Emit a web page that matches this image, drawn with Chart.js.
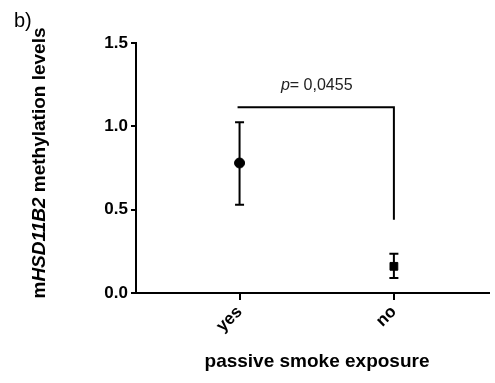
<!DOCTYPE html>
<html>
<head>
<meta charset="utf-8">
<script src="https://cdn.jsdelivr.net/npm/chart.js@4.4.1/dist/chart.umd.min.js"></script>
<style>
  body { margin: 0; background: #fff; }
  canvas { display: block; }
</style>
</head>
<body>
<canvas id="methChart" width="495" height="383"></canvas>
<script>
// Data
const categories = ['yes', 'no'];
const means = [0.78, 0.16];
const errLow = [0.53, 0.09];
const errHigh = [1.025, 0.235];
const markerStyles = ['circle', 'rect'];
const yTicks = [0, 0.5, 1.0, 1.5];
const bracketY = 1.115;     // height of the significance bar
const bracketDrop = 0.44;   // where the right leg ends
const pLabel = 'p';
const pValue = '= 0,0455';

const FONT = '"Liberation Sans", Arial, sans-serif';

// error bars, bracket, titles and panel letter
const extras = {
    id: 'extras',
    afterDatasetsDraw(chart) {
        const ctx = chart.ctx;
        const x = chart.scales.x, y = chart.scales.y;
        const area = chart.chartArea;
        ctx.save();
        ctx.strokeStyle = '#000';
        ctx.lineWidth = 2;
        // error bars
        categories.forEach((c, i) => {
            const px = x.getPixelForValue(i);
            const top = y.getPixelForValue(errHigh[i]);
            const bot = y.getPixelForValue(errLow[i]);
            ctx.beginPath();
            ctx.moveTo(px, top); ctx.lineTo(px, bot);
            ctx.moveTo(px - 4.5, top); ctx.lineTo(px + 4.5, top);
            ctx.moveTo(px - 4.5, bot); ctx.lineTo(px + 4.5, bot);
            ctx.stroke();
        });
        // significance bracket
        const x0 = x.getPixelForValue(0), x1 = x.getPixelForValue(1);
        const by = y.getPixelForValue(bracketY);
        ctx.beginPath();
        ctx.moveTo(x0 - 2, by);
        ctx.lineTo(x1, by);
        ctx.lineTo(x1, y.getPixelForValue(bracketDrop));
        ctx.stroke();

        // p value text
        ctx.fillStyle = '#222';
        ctx.textBaseline = 'middle';
        ctx.font = 'italic 16px ' + FONT;
        const wP = ctx.measureText(pLabel).width;
        ctx.font = '16px ' + FONT;
        const wV = ctx.measureText(pValue).width;
        const cx = (x0 + x1) / 2;
        const ty = by - 22;
        let sx = cx - (wP + wV) / 2;
        ctx.textAlign = 'left';
        ctx.font = 'italic 16px ' + FONT;
        ctx.fillText(pLabel, sx, ty);
        ctx.font = '16px ' + FONT;
        ctx.fillText(pValue, sx + wP, ty);

        // x title
        ctx.fillStyle = '#000';
        ctx.font = 'bold 19px ' + FONT;
        ctx.textAlign = 'center';
        ctx.fillText('passive smoke exposure', 317, 362);

        // y title, gene name in italics
        const parts = [['m', 'bold '], ['HSD11B2', 'bold italic '], [' methylation levels', 'bold ']];
        let total = 0;
        parts.forEach(p => { ctx.font = p[1] + '19px ' + FONT; total += ctx.measureText(p[0]).width; });
        ctx.translate(40, (area.top + area.bottom) / 2 - 5);
        ctx.rotate(-Math.PI / 2);
        ctx.textAlign = 'left';
        let off = -total / 2;
        parts.forEach(p => {
            ctx.font = p[1] + '19px ' + FONT;
            ctx.fillText(p[0], off, 0);
            off += ctx.measureText(p[0]).width;
        });
        ctx.restore();

        // panel letter
        ctx.save();
        ctx.fillStyle = '#000';
        ctx.font = '20px ' + FONT;
        ctx.textBaseline = 'middle';
        ctx.fillText('b)', 14, 21);
        ctx.restore();
    }
};

const ctx = document.getElementById('methChart').getContext('2d');
const methChart = new Chart(ctx, {
    type: 'line',
    data: {
        datasets: [{
            data: means.map((v, i) => ({ x: i, y: v })),
            showLine: false,
            pointStyle: markerStyles,
            pointRadius: [5, 5.5],
            pointBackgroundColor: '#000',
            pointBorderColor: '#000',
            pointBorderWidth: 1,
            clip: false
        }]
    },
    options: {
        responsive: false,
        animation: false,
        layout: { padding: { top: 43, right: 0, bottom: 0, left: 0 } },
        plugins: { legend: { display: false }, tooltip: { enabled: false } },
        scales: {
            x: {
                type: 'linear',
                min: -0.671,
                max: 1.613,
                afterBuildTicks: s => { s.ticks = categories.map((c, i) => ({ value: i })); },
                afterFit: s => { s.height = 90; },
                border: { color: '#000', width: 2 },
                grid: { drawOnChartArea: false, drawTicks: true, tickLength: 7, color: '#000', lineWidth: 2 },
                ticks: {
                    callback: v => categories[v],
                    minRotation: 45,
                    maxRotation: 45,
                    padding: 2,
                    color: '#000',
                    font: { family: FONT, size: 17, weight: 'bold' }
                }
            },
            y: {
                min: 0,
                max: 1.5,
                afterBuildTicks: s => { s.ticks = yTicks.map(v => ({ value: v })); },
                afterFit: s => { s.width = 136; },
                border: { color: '#000', width: 2 },
                grid: { drawOnChartArea: false, drawTicks: true, tickLength: 5, color: '#000', lineWidth: 2 },
                ticks: {
                    callback: v => v.toFixed(1),
                    padding: 3,
                    color: '#000',
                    font: { family: FONT, size: 17, weight: 'bold' }
                }
            }
        }
    },
    plugins: [extras]
});
</script>
</body>
</html>
